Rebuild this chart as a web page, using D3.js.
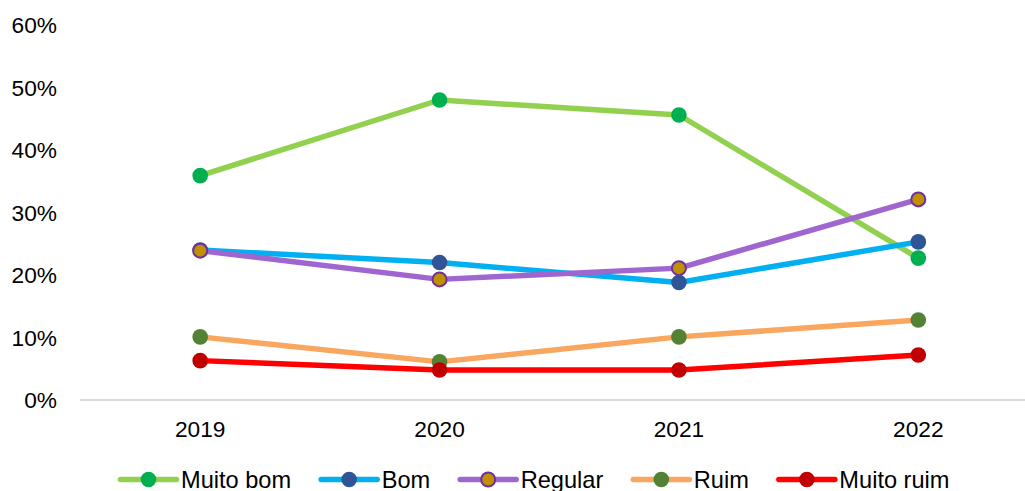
<!DOCTYPE html>
<html>
<head>
<meta charset="utf-8">
<script src="https://cdn.jsdelivr.net/npm/d3@7"></script>
<style>
  html, body { margin: 0; padding: 0; background: #fff; }
  svg { display: block; font-family: "Liberation Sans", Arial, sans-serif; }
</style>
</head>
<body>
<svg id="chart" width="1025" height="491"></svg>
<script>
const years = ["2019", "2020", "2021", "2022"];
const seriesNames = ["Muito bom", "Bom", "Regular", "Ruim", "Muito ruim"];
const muitoBom = [35.9, 48.0, 45.6, 22.7];
const bom = [24.0, 22.0, 18.8, 25.3];
const regular = [23.9, 19.3, 21.1, 32.1];
const ruim = [10.1, 6.1, 10.1, 12.8];
const muitoRuim = [6.3, 4.8, 4.8, 7.2];
const yTicks = [0, 10, 20, 30, 40, 50, 60];

const lineColors = ["#92d050", "#00b0f0", "#a066d0", "#f9a65e", "#ff0000"];
const markerFill = ["#00b050", "#2f5597", "#bf9000", "#548235", "#c00000"];
const markerStroke = [null, null, "#7030a0", null, null];

const seriesValues = [muitoBom, bom, regular, ruim, muitoRuim];
const series = seriesNames.map((n, i) => ({
  name: n, values: seriesValues[i], line: lineColors[i], fill: markerFill[i], stroke: markerStroke[i]
}));

const svg = d3.select("#chart");
const FONT = 22.7;
const LFONT = 23.6;

const x = d3.scaleBand().domain(years).range([80.5, 1038]).padding(0);
const y = d3.scaleLinear().domain([0, 60]).range([400, 25]);
const cx = d => x(d) + x.bandwidth() / 2;

// y tick labels
svg.append("g").selectAll("text").data(yTicks).join("text")
  .attr("x", 57).attr("y", d => y(d))
  .attr("text-anchor", "end").attr("dominant-baseline", "central")
  .attr("font-size", FONT).attr("fill", "#000")
  .text(d => d + "%");

// x axis line
svg.append("line")
  .attr("x1", 80).attr("x2", 1038)
  .attr("y1", y(0)).attr("y2", y(0))
  .attr("stroke", "#d9d9d9").attr("stroke-width", 2);

// x tick labels
svg.append("g").selectAll("text").data(years).join("text")
  .attr("x", d => cx(d)).attr("y", 436.5)
  .attr("text-anchor", "middle")
  .attr("font-size", FONT).attr("fill", "#000")
  .text(d => d);

const line = d3.line().x((d, i) => cx(years[i])).y(d => y(d));

series.forEach(s => {
  const g = svg.append("g");
  g.append("path").datum(s.values)
    .attr("d", line).attr("fill", "none")
    .attr("stroke", s.line).attr("stroke-width", 5.5)
    .attr("stroke-linejoin", "round");
  g.selectAll("circle").data(s.values).join("circle")
    .attr("cx", (d, i) => cx(years[i])).attr("cy", d => y(d))
    .attr("r", s.stroke ? 7 : 7.8)
    .attr("fill", s.fill)
    .attr("stroke", s.stroke || "none")
    .attr("stroke-width", s.stroke ? 2 : 0);
});

// legend
const legend = svg.append("g");
const ly = 479.5;
const items = legend.selectAll("g").data(series).join("g");
items.append("line")
  .attr("x1", 0).attr("x2", 56).attr("y1", ly).attr("y2", ly)
  .attr("stroke", d => d.line).attr("stroke-width", 5.5).attr("stroke-linecap", "round");
items.append("circle")
  .attr("cx", 28).attr("cy", ly)
  .attr("r", d => d.stroke ? 7 : 7.8)
  .attr("fill", d => d.fill)
  .attr("stroke", d => d.stroke || "none")
  .attr("stroke-width", d => d.stroke ? 2 : 0);
items.append("text")
  .attr("x", 60.5).attr("y", ly).attr("dominant-baseline", "central")
  .attr("font-size", LFONT).attr("fill", "#000")
  .text(d => d.name);

let offset = 0;
const widths = [];
items.each(function() {
  const w = 60.5 + d3.select(this).select("text").node().getComputedTextLength();
  widths.push(w);
});
const gap = 30;
let startX = 120.5;
items.attr("transform", (d, i) => {
  const t = `translate(${startX + offset},0)`;
  offset += widths[i] + gap;
  return t;
});
</script>
</body>
</html>
